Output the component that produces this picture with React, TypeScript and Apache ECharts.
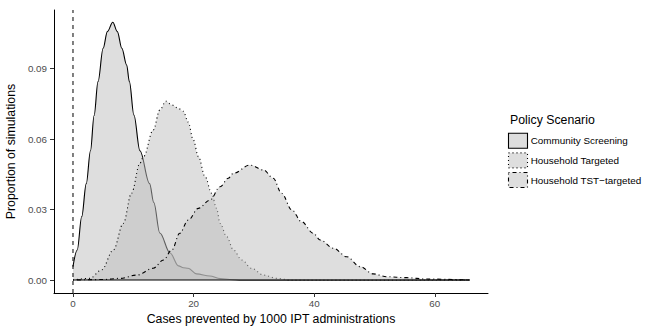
import React, { useEffect, useRef } from "react";
import * as echarts from "echarts";

const scenarioNames = ["Community Screening", "Household Targeted", "Household TST\u2212targeted"];
const legendTitle = "Policy Scenario";
const xTicks = [0, 20, 40, 60];
const yTicks = [0, 0.03, 0.06, 0.09];
const referenceX = 0;

const communityScreening: [number, number][] = [
  [0, 0.0057], [0.7, 0.0128], [1.45, 0.027], [2.2, 0.041], [2.9, 0.055], [3.5, 0.07],
  [4.15, 0.0844], [5.0, 0.0986], [5.7, 0.1057], [6.6, 0.1097], [7.35, 0.1057], [8.1, 0.0986],
  [8.9, 0.0915], [9.35, 0.0844], [10.1, 0.0702], [11.1, 0.055], [12.7, 0.041], [13.4, 0.033],
  [14.4, 0.02], [16.1, 0.0115], [17.5, 0.006], [18.3, 0.0052], [19.1, 0.005], [20.5, 0.0026],
  [22.7, 0.0017], [24.4, 0.0006], [26, 0.0002], [28, 0], [65.8, 0],
];
const householdTargeted: [number, number][] = [
  [0, 0], [2.8, 0.0007], [4.75, 0.0043], [6.7, 0.0128], [8.35, 0.0241], [9.7, 0.0369],
  [11.1, 0.0497], [11.7, 0.0525], [13.3, 0.0638], [14.4, 0.0723], [15.4, 0.0761], [16.4, 0.0745],
  [17.5, 0.073], [18.3, 0.0718], [19.1, 0.0672], [19.95, 0.0596], [20.8, 0.0525], [21.9, 0.044],
  [23.0, 0.0369], [23.8, 0.0305], [24.4, 0.0241], [25.5, 0.0184], [26.6, 0.0128], [28.0, 0.0085],
  [29.6, 0.005], [31.6, 0.0021], [33.8, 0.0007], [36, 0], [65.8, 0],
];
const householdTstTargeted: [number, number][] = [
  [0, 0], [5, 0.0002], [7.8, 0.0007], [10.6, 0.0021], [13.3, 0.005], [15.0, 0.0085],
  [16.4, 0.0128], [17.7, 0.0199], [19.1, 0.0255], [20.8, 0.0305], [22.7, 0.034], [24.4, 0.0397],
  [25.75, 0.0433], [26.6, 0.0454], [29.35, 0.0489], [31.6, 0.0468], [33.2, 0.0433], [34.6, 0.0369],
  [36.3, 0.0298], [37.9, 0.0248], [39.85, 0.0199], [41.0, 0.017], [43.2, 0.0135], [45.4, 0.0099],
  [47.6, 0.0057], [49.8, 0.0026], [52, 0.0014], [55.3, 0.001], [58.7, 0.0004], [65.8, 0],
];

const seriesData = [communityScreening, householdTargeted, householdTstTargeted];
const dashes: any[] = ["solid", [1, 3], [1, 3, 4, 3]];
const FILL = "rgba(190,190,190,0.5)";
const FONT = "'Liberation Sans', Arial, sans-serif";
const X_MIN = -3.15;
const X_MAX = 68.82;
const Y_MIN = -0.00553;
const Y_MAX = 0.1149;

export default function App() {
  const ref = useRef<HTMLDivElement>(null);
  useEffect(() => {
    if (!ref.current) return;
    const chart = echarts.init(ref.current, null, { renderer: "svg" });
    const series: any[] = seriesData.map((d, i) => ({
      name: scenarioNames[i],
      type: "line",
      data: d,
      smooth: 0.35,
      smoothMonotone: "x",
      showSymbol: false,
      symbol: "none",
      z: 2 + i,
      lineStyle: { color: "#000", width: 1.1, type: dashes[i] },
      areaStyle: { color: FILL, opacity: 1 },
      silent: true,
    }));
    const xEnd = communityScreening[communityScreening.length - 1][0];
    series.push({
      name: "baseline",
      type: "line",
      data: [[referenceX, 0], [xEnd, 0]],
      showSymbol: false,
      symbol: "none",
      z: 5,
      silent: true,
      lineStyle: { color: "#000", width: 1.2, type: "solid" },
    });
    series.push({
      name: "zero",
      type: "line",
      data: [[referenceX, Y_MIN], [referenceX, Y_MAX]],
      showSymbol: false,
      symbol: "none",
      z: 6,
      silent: true,
      clip: false,
      lineStyle: { color: "#000", width: 1, type: [4, 4] },
    });

    const legendEls: any[] = [
      {
        type: "text",
        left: 510,
        top: 113.5,
        style: { text: legendTitle, fontSize: 12.3, fill: "#000", fontFamily: FONT },
      },
    ];
    scenarioNames.forEach((n, i) => {
      const y = 133.3 + i * 19.6;
      legendEls.push({
        type: "rect",
        shape: { x: 508.5, y: y, width: 19, height: 15 },
        style: { fill: FILL, stroke: "#000", lineWidth: 1.1, lineDash: i === 0 ? null : dashes[i] },
      });
      legendEls.push({
        type: "text",
        x: 530.7,
        y: y + 7.5,
        style: {
          text: n,
          fontSize: 9.9,
          fill: "#000",
          fontFamily: FONT,
          verticalAlign: "middle",
          textVerticalAlign: "middle",
        },
      });
    });

    chart.setOption({
      animation: false,
      backgroundColor: "#fff",
      textStyle: { fontFamily: FONT },
      grid: {
        left: 54,
        top: 10,
        width: 434,
        height: 283,
        containLabel: false,
        outerBoundsMode: "none",
      },
      xAxis: {
        type: "value",
        min: X_MIN,
        max: X_MAX,
        name: "Cases prevented by 1000 IPT administrations",
        nameLocation: "middle",
        nameGap: 18,
        nameTextStyle: { fontSize: 12.3, color: "#000", fontFamily: FONT },
        axisLine: { show: true, onZero: false, lineStyle: { color: "#000", width: 1 } },
        axisTick: { show: true, length: 4, customValues: xTicks, lineStyle: { color: "#333" } },
        axisLabel: {
          customValues: xTicks,
          fontSize: 9.8,
          color: "#4d4d4d",
          margin: 5,
          fontFamily: FONT,
        },
        splitLine: { show: false },
      },
      yAxis: {
        type: "value",
        min: Y_MIN,
        max: Y_MAX,
        name: "Proportion of simulations",
        nameLocation: "middle",
        nameGap: 30,
        nameTextStyle: { fontSize: 12.3, color: "#000", fontFamily: FONT },
        axisLine: { show: true, onZero: false, lineStyle: { color: "#000", width: 1 } },
        axisTick: { show: true, length: 4, customValues: yTicks, lineStyle: { color: "#333" } },
        axisLabel: {
          customValues: yTicks,
          fontSize: 9.8,
          color: "#4d4d4d",
          margin: 7,
          fontFamily: FONT,
          formatter: (v: number) => v.toFixed(2),
        },
        splitLine: { show: false },
      },
      series,
      graphic: legendEls,
    });
    return () => chart.dispose();
  }, []);
  return <div ref={ref} style={{ width: 655, height: 328, position: "fixed", left: 0, top: 0 }} />;
}
